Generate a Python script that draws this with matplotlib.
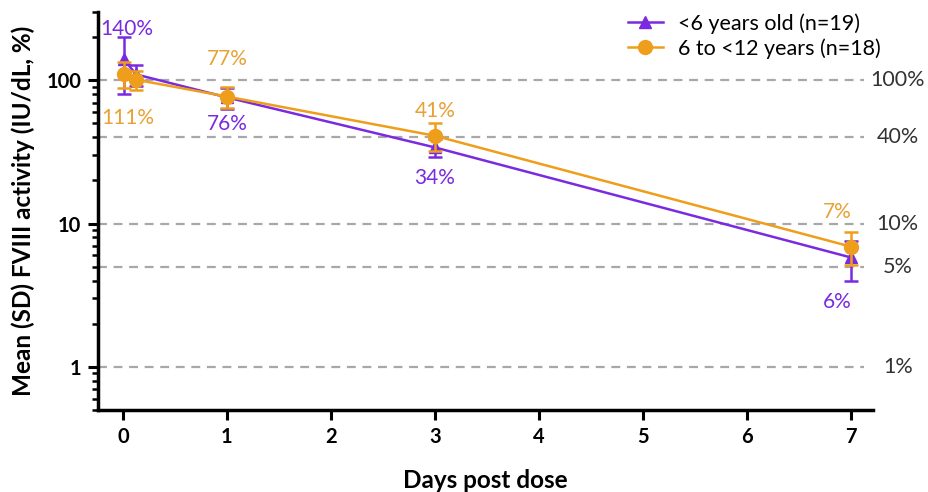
import matplotlib
matplotlib.use("Agg")
import matplotlib.pyplot as plt
from matplotlib.ticker import LogLocator, NullFormatter, FixedLocator, FixedFormatter

plt.rcParams["font.family"] = ["Lato", "DejaVu Sans"]

# data (days post dose, mean FVIII activity %, SD)
days_young = [0.01, 0.125, 1, 3, 7]
mean_young = [140, 110, 76, 34, 5.8]
sd_young = [60, 18, 13, 5, 1.8]

days_old = [0.01, 0.125, 1, 3, 7]
mean_old = [111, 101, 77, 41, 6.9]
sd_old = [23, 15, 13, 9, 1.8]

label_young = ["140%", None, "76%", "34%", "6%"]
label_old = ["111%", None, "77%", "41%", "7%"]

ref_levels = [100, 40, 10, 5, 1]
ref_labels = ["100%", "40%", "10%", "5%", "1%"]

x_ticks = [0, 1, 2, 3, 4, 5, 6, 7]
y_ticks = [1, 10, 100]

purple = "#7a2be0"
orange = "#ef9e1b"
purple_txt = "#7a2be0"
orange_txt = "#e8a234"

fig = plt.figure(figsize=(9.29, 4.92), dpi=100)
ax = fig.add_axes([0.1055, 0.1667, 0.834, 0.809])
ax.set_yscale("log")
ax.set_xlim(-0.24, 7.21)
ax.set_ylim(0.5, 300)

for lvl, lab in zip(ref_levels, ref_labels):
    ax.plot([-0.24, 7.13], [lvl, lvl], color="#a8a8a8", linestyle=(0, (4, 3)),
            linewidth=1.6, zorder=1, clip_on=False)
    ax.text(7.45, lvl, lab, ha="center", va="center", fontsize=15.5,
            color="#333333", clip_on=False)

ax.errorbar(days_young, mean_young, yerr=sd_young, color=purple, marker="^",
            markersize=9, linewidth=1.8, elinewidth=1.8, capsize=5, capthick=1.8,
            label="<6 years old (n=19)", zorder=3)
ax.errorbar(days_old, mean_old, yerr=sd_old, color=orange, marker="o",
            markersize=10, linewidth=1.8, elinewidth=1.8, capsize=5, capthick=1.8,
            label="6 to <12 years (n=18)", zorder=4)

# value labels
young_offsets = [(2, 22), None, (0, -19), (0, -22), (-10, -32)]
old_offsets = [(3, -32), None, (0, 27), (0, 18), (-10, 25)]
for x, y, lab, off in zip(days_young, mean_young, label_young, young_offsets):
    if lab:
        ax.annotate(lab, xy=(x, y), xytext=off, textcoords="offset points",
                    ha="center", va="center", fontsize=15, color=purple_txt)
for x, y, lab, off in zip(days_old, mean_old, label_old, old_offsets):
    if lab:
        ax.annotate(lab, xy=(x, y), xytext=off, textcoords="offset points",
                    ha="center", va="center", fontsize=15, color=orange_txt)

ax.xaxis.set_major_locator(FixedLocator(x_ticks))
ax.yaxis.set_major_locator(FixedLocator(y_ticks))
ax.yaxis.set_major_formatter(FixedFormatter([str(v) for v in y_ticks]))
ax.yaxis.set_minor_locator(LogLocator(base=10, subs=range(2, 10)))
ax.yaxis.set_minor_formatter(NullFormatter())

ax.tick_params(axis="both", which="major", direction="out", length=7, width=2.2,
               labelsize=14.5, colors="black", pad=5)
ax.tick_params(axis="y", which="minor", direction="out", length=4, width=1.8)
ax.tick_params(axis="x", which="minor", bottom=False)
for lab in ax.get_xticklabels() + ax.get_yticklabels():
    lab.set_fontweight("bold")

for side in ["top", "right"]:
    ax.spines[side].set_visible(False)
for side in ["left", "bottom"]:
    ax.spines[side].set_linewidth(2.5)

ax.set_xlabel("Days post dose", fontsize=17.5, fontweight="bold", labelpad=16)
ax.set_ylabel("Mean (SD) FVIII activity (IU/dL, %)", fontsize=17.5,
              fontweight="bold", labelpad=8)

handles, labels = ax.get_legend_handles_labels()
handles = [h[0] for h in handles]
ax.legend(handles, labels, loc="upper right", bbox_to_anchor=(1.035, 1.045),
          frameon=False, fontsize=15.5, handlelength=1.6, handletextpad=0.7,
          labelspacing=0.2)

fig.savefig("out.png", dpi=100)
